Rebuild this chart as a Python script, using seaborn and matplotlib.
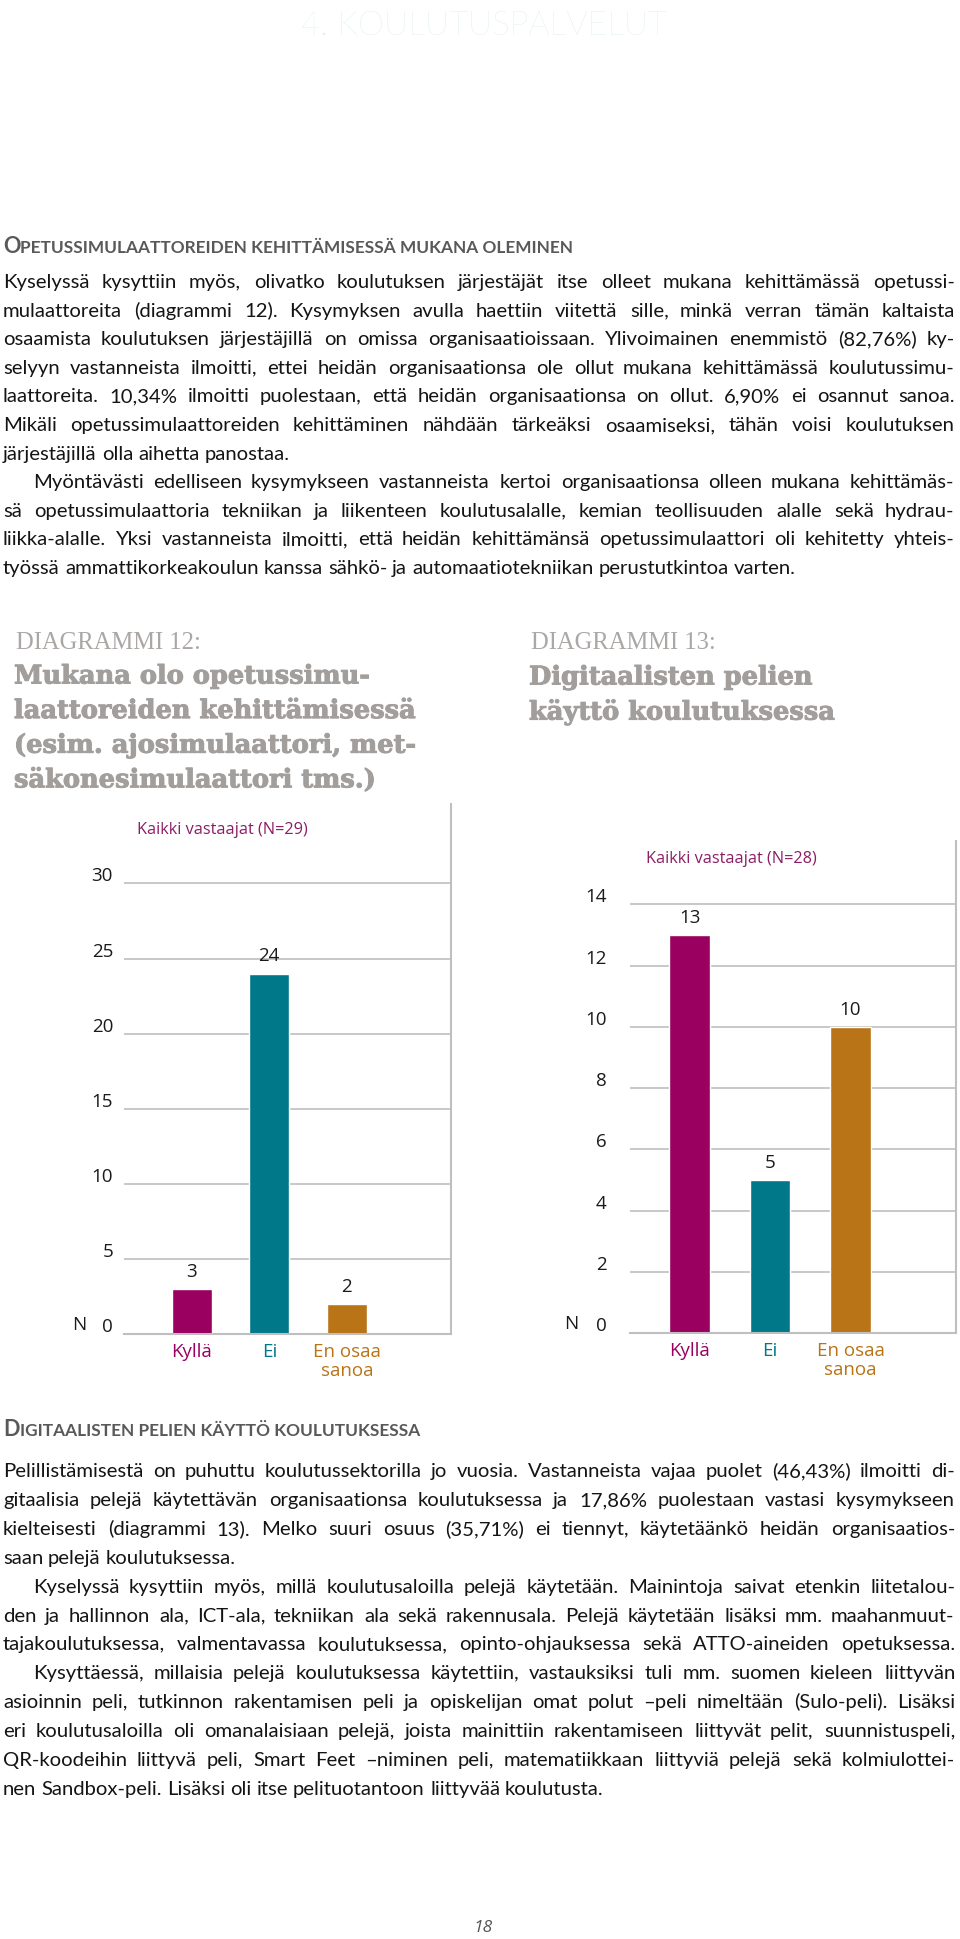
import matplotlib
matplotlib.use("Agg")
import matplotlib.pyplot as plt
from matplotlib.transforms import ScaledTranslation
import matplotlib.patheffects as pe
import seaborn as sns
import pandas as pd

W, H = 960, 1939

# chart data
categories = ["Kyllä", "Ei", "En osaa\nsanoa"]
d12_counts = [3, 24, 2]
d13_counts = [13, 5, 10]
d12_ticks = [0, 5, 10, 15, 20, 25, 30]
d13_ticks = [0, 2, 4, 6, 8, 10, 12, 14]
d12_note = "Kaikki vastaajat (N=29)"
d13_note = "Kaikki vastaajat (N=28)"
bar_colors = ["#990060", "#00788A", "#B87417"]

# page text
page_header = "4. KOULUTUSPALVELUT"
page_number = "18"
heading1 = "Opetussimulaattoreiden kehittämisessä mukana oleminen"
heading2 = "Digitaalisten pelien käyttö koulutuksessa"

section1 = [
    ["Kyselyssä kysyttiin myös, olivatko koulutuksen järjestäjät itse olleet mukana kehittämässä opetussi-",
     "mulaattoreita (diagrammi 12). Kysymyksen avulla haettiin viitettä sille, minkä verran tämän kaltaista",
     "osaamista koulutuksen järjestäjillä on omissa organisaatioissaan. Ylivoimainen enemmistö (82,76%) ky-",
     "selyyn vastanneista ilmoitti, ettei heidän organisaationsa ole ollut mukana kehittämässä koulutussimu-",
     "laattoreita. 10,34% ilmoitti puolestaan, että heidän organisaationsa on ollut. 6,90% ei osannut sanoa.",
     "Mikäli opetussimulaattoreiden kehittäminen nähdään tärkeäksi osaamiseksi, tähän voisi koulutuksen",
     "järjestäjillä olla aihetta panostaa."],
    ["Myöntävästi edelliseen kysymykseen vastanneista kertoi organisaationsa olleen mukana kehittämäs-",
     "sä opetussimulaattoria tekniikan ja liikenteen koulutusalalle, kemian teollisuuden alalle sekä hydrau-",
     "liikka-alalle. Yksi vastanneista ilmoitti, että heidän kehittämänsä opetussimulaattori oli kehitetty yhteis-",
     "työssä ammattikorkeakoulun kanssa sähkö- ja automaatiotekniikan perustutkintoa varten."],
]
section2 = [
    ["Pelillistämisestä on puhuttu koulutussektorilla jo vuosia. Vastanneista vajaa puolet (46,43%) ilmoitti di-",
     "gitaalisia pelejä käytettävän organisaationsa koulutuksessa ja 17,86% puolestaan vastasi kysymykseen",
     "kielteisesti (diagrammi 13). Melko suuri osuus (35,71%) ei tiennyt, käytetäänkö heidän organisaatios-",
     "saan pelejä koulutuksessa."],
    ["Kyselyssä kysyttiin myös, millä koulutusaloilla pelejä käytetään. Mainintoja saivat etenkin liitetalou-",
     "den ja hallinnon ala, ICT-ala, tekniikan ala sekä rakennusala. Pelejä käytetään lisäksi mm. maahanmuut-",
     "tajakoulutuksessa, valmentavassa koulutuksessa, opinto-ohjauksessa sekä ATTO-aineiden opetuksessa."],
    ["Kysyttäessä, millaisia pelejä koulutuksessa käytettiin, vastauksiksi tuli mm. suomen kieleen liittyvän",
     "asioinnin peli, tutkinnon rakentamisen peli ja opiskelijan omat polut –peli nimeltään (Sulo-peli). Lisäksi",
     "eri koulutusaloilla oli omanalaisiaan pelejä, joista mainittiin rakentamiseen liittyvät pelit, suunnistuspeli,",
     "QR-koodeihin liittyvä peli, Smart Feet –niminen peli, matematiikkaan liittyviä pelejä sekä kolmiulottei-",
     "nen Sandbox-peli. Lisäksi oli itse pelituotantoon liittyvää koulutusta."],
]
d12_label = "DIAGRAMMI 12:"
d12_title = ["Mukana olo opetussimu-", "laattoreiden kehittämisessä",
             "(esim. ajosimulaattori, met-", "säkonesimulaattori tms.)"]
d13_label = "DIAGRAMMI 13:"
d13_title = ["Digitaalisten pelien", "käyttö koulutuksessa"]

sns.set_theme(style="white")
plt.rcParams['font.family'] = ['Open Sans', 'DejaVu Sans']

fig = plt.figure(figsize=(W / 100, H / 100), dpi=100)
renderer = fig.canvas.get_renderer()

BODY = dict(family="Lato", color="#141414")
HEAD = dict(family="Lato", weight="bold", color="#595959")
LABEL = dict(family="Liberation Serif", color="#aaa7a5")
TITLE = dict(family="DejaVu Serif", weight="bold", color="#a29e9c")


def fx(x):
    return x / W


def fy(y):
    return 1 - y / H


def width_of(s, **kw):
    t = fig.text(0, 0, s, **kw)
    w = t.get_window_extent(renderer).width
    t.remove()
    return w


def fit_size(s, target, **kw):
    return 20 * target / width_of(s, fontsize=20, **kw)


def draw_section(paras, y0, step, base, x0=3, x1=955, indent=30):
    # justified text, word by word; a line that is too long gets a slightly smaller size
    y = y0
    for pi, para in enumerate(paras):
        for li, line in enumerate(para):
            left = x0 + (indent if pi > 0 and li == 0 else 0)
            avail = x1 - left
            words = line.split(" ")
            size = base
            natural = width_of(line, fontsize=size, **BODY)
            if natural > avail * 0.995:
                size = base * avail * 0.99 / natural
            space = width_of("a a", fontsize=size, **BODY) - width_of("aa", fontsize=size, **BODY)
            ws = [width_of(w, fontsize=size, **BODY) for w in words]
            natural = sum(ws) + space * (len(words) - 1)
            last = li == len(para) - 1
            if len(words) > 1 and (not last or natural > 0.96 * avail):
                gap = (avail - sum(ws)) / (len(words) - 1)
            else:
                gap = space
            x = left
            for w, wd in zip(words, ws):
                fig.text(fx(round(x)), fy(y + 5), w, fontsize=size, ha="left", va="baseline", **BODY)
                x += wd + gap
            y += step


def smallcaps(text, x, y, k):
    first, rest = text[0], text[1:].upper()
    big, small = 20 * k, 16 * k
    fig.text(fx(x), fy(y), first, fontsize=big, va="baseline", **HEAD)
    x2 = x + width_of(first, fontsize=big, **HEAD)
    fig.text(fx(x2), fy(y), rest, fontsize=small, va="baseline", **HEAD)


# header
hkw = dict(family="Lato", weight="light")
hsize = fit_size(page_header, 365, **hkw)
fig.text(fx(484), fy(26), page_header, fontsize=hsize, color="#d6e9eb",
         ha="center", va="center", **hkw)

# section headings (small caps)
k_head = 418 / (width_of(heading2[0], fontsize=20, **HEAD) + width_of(heading2[1:].upper(), fontsize=16, **HEAD))
smallcaps(heading1, 3, 253, k_head)
smallcaps(heading2, 3, 1436, k_head)

# body text
draw_section(section1, 283, 28.6, 14.6)
draw_section(section2, 1472, 28.9, 14.6)

# diagram titles
lsize = fit_size(d12_label, 185, **LABEL)
tsize = (fit_size(d12_title[0], 362, **TITLE) + fit_size(d12_title[1], 396, **TITLE)) / 2
bold = [pe.withStroke(linewidth=0.7, foreground=TITLE["color"])]
fig.text(fx(16), fy(643), d12_label, fontsize=lsize, va="center", **LABEL)
fig.text(fx(531), fy(643), d13_label, fontsize=lsize, va="center", **LABEL)
for i, line in enumerate(d12_title):
    fig.text(fx(14), fy(676 + 34.6 * i), line, fontsize=tsize, va="center",
             path_effects=bold, **TITLE)
for i, line in enumerate(d13_title):
    fig.text(fx(529), fy(677 + 34.6 * i), line, fontsize=tsize, va="center",
             path_effects=bold, **TITLE)


def draw_chart(left, right, top, bottom, counts, ticks, ymax, xlim, bar_width,
               tick_pad, n_x, note, note_x, note_y):
    ax = fig.add_axes([fx(left), fy(bottom), (right - left) / W, (bottom - top) / H])
    df = pd.DataFrame({"vastaus": categories, "N": counts})
    sns.barplot(data=df, x="vastaus", y="N", hue="vastaus", palette=bar_colors,
                saturation=1, width=bar_width, legend=False, ax=ax)
    ax.set_ylim(0, ymax)
    ax.set_xlim(*xlim)
    ax.set_yticks(ticks)
    ax.grid(axis="y", color="#bfbfbf", lw=1.2)
    ax.set_axisbelow(True)
    for side in ["left", "top"]:
        ax.spines[side].set_visible(False)
    for side in ["right", "bottom"]:
        ax.spines[side].set_color("#bfbfbf")
        ax.spines[side].set_linewidth(1.5)
    ax.tick_params(axis="y", length=0, pad=tick_pad, labelsize=13.5, labelcolor="#1a1a1a")
    ax.tick_params(axis="x", length=0, pad=6.5, labelsize=13.5)
    shift = ScaledTranslation(0, 0.09, fig.dpi_scale_trans)
    for lbl in ax.get_yticklabels():
        lbl.set_transform(lbl.get_transform() + shift)
    for lbl, c in zip(ax.get_xticklabels(), bar_colors):
        lbl.set_color(c)
        lbl.set_linespacing(1.05)
    ax.set_xlabel("")
    ax.set_ylabel("N", rotation=0, fontsize=13.5, color="#1a1a1a", ha="center", va="center")
    ax.yaxis.set_label_coords((n_x - left) / (right - left), 9 / (bottom - top))
    for cont in ax.containers:
        ax.bar_label(cont, fmt="%d", padding=6, fontsize=13.5, color="#1a1a1a")
    nsize = fit_size(note, 170)
    ax.text((note_x - left) / (right - left), (bottom - note_y) / (bottom - top), note,
            transform=ax.transAxes, ha="center", va="center", fontsize=nsize, color="#8c1d64")
    return ax


draw_chart(124, 451, 804, 1334, d12_counts, d12_ticks, 530 / 15.02, (-0.875, 3.345), 0.52,
           7.9, 79, d12_note, 222, 829.5)
draw_chart(629.7, 955.7, 841.3, 1333, d13_counts, d13_ticks, 491.7 / 30.61, (-0.743, 3.307), 0.5,
           16.6, 571.7, d13_note, 731, 859.3)

# page number
fig.text(fx(483), fy(1928), page_number, fontsize=12.5, style="italic", color="#555555",
         ha="center", va="center")

fig.savefig("out.png", dpi=100)
